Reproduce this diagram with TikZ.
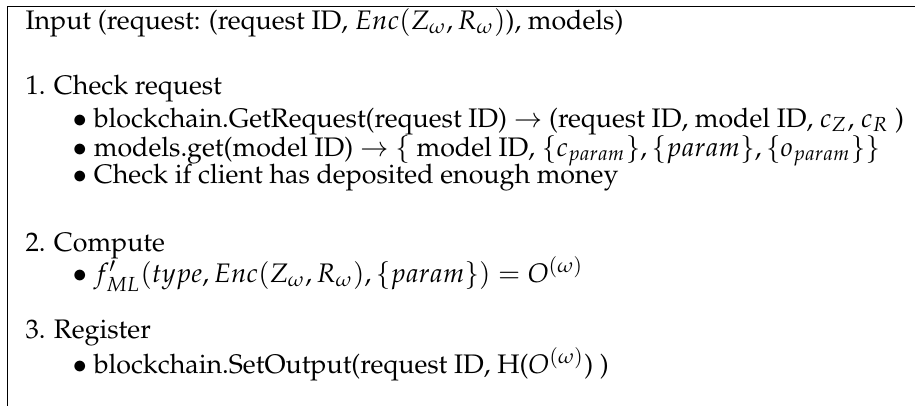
\documentclass[tikz,border=0pt]{standalone}
\usepackage[T1]{fontenc}
\usepackage{mathpazo}
\usepackage{tikz}
\usetikzlibrary{positioning,calc}

\begin{document}
\begin{tikzpicture}[every node/.style={anchor=base west, inner sep=0pt}]
            \useasboundingbox (0,0) rectangle (12.0,-5.3246);
            % Frame (cut off at right and bottom)
            \coordinate (tl) at (0.0957,-0.0879);
            \coordinate (tr) at (12.0,-0.0879);
            \coordinate (bl) at (0.0957,-5.3246);
            \draw[line width=0.55pt] (tr) -- (tl) -- (bl);
            
            % Input line
            \node (input) at (0.328,-0.385) {Input (request: (request ID, $Enc(Z_\omega, R_\omega)$), models)};
            
            % Step 1
            \node (check) at (0.328,-1.233) {1. Check request};
            \node (getreq) at (0.944,-1.666) {$\bullet$ blockchain.GetRequest(request ID) $\rightarrow$ (request ID, model ID, $c_Z$, $c_R$ )};
            \node (getmodel) at (0.944,-2.050) {$\bullet$ models.get(model ID) $\rightarrow$ $\{$ model ID, $\{c_{param}\}, \{param\}, \{o_{param}\}\}$};
            \node (deposit) at (0.944,-2.405) {$\bullet$ Check if client has deposited enough money};
            
            % Step 2
            \node (compute) at (0.328,-3.300) {2. Compute};
            \node (fml) at (0.944,-3.705) {$\bullet$ $f'_{ML}(type, Enc(Z_\omega, R_\omega), \{param\}) = O^{(\omega)}$};
            
            % Step 3
            \node (register) at (0.328,-4.433) {3. Register};
            \node (setout) at (0.944,-4.892) {$\bullet$ blockchain.SetOutput(request ID, H($O^{(\omega)}$) )};
        \end{tikzpicture}
\end{document}
